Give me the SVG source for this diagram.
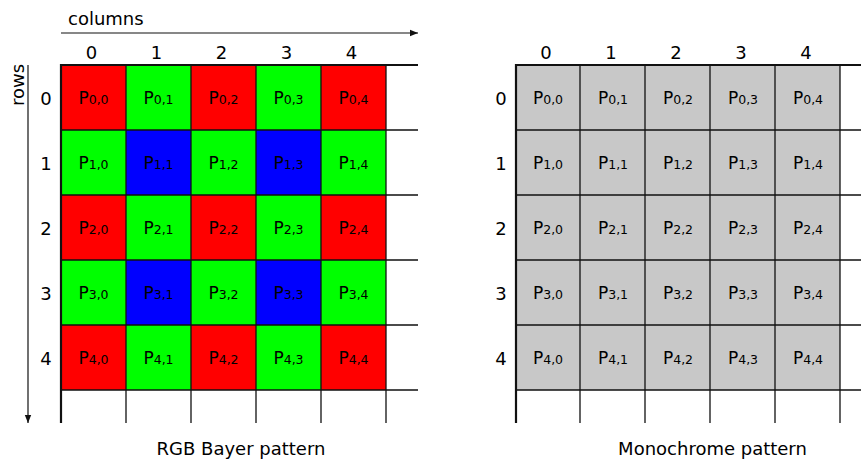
<svg xmlns="http://www.w3.org/2000/svg" width="861" height="459" viewBox="0 0 861 459">
<style>
text{font-family:"DejaVu Sans","Liberation Sans",sans-serif;fill:#000;font-weight:normal}
.lbl{font-size:18px;text-anchor:middle}
.cap{font-size:18px;text-anchor:middle}
.p{font-size:17px;text-anchor:middle}
.s{font-size:12.5px}
.r{fill:#ff0000}.g{fill:#00ff00}.b{fill:#0000ff}.m{fill:#c8c8c8}
.grid{stroke:#111;stroke-width:1.3;fill:none}
.edge{stroke:#111;stroke-width:2.2;fill:none}
.conn{stroke:#111;stroke-width:1.2;fill:none;marker-end:url(#ah)}
</style>
<defs>
<marker id="ah" viewBox="0 0 10 10" refX="10" refY="5" markerWidth="8" markerHeight="8" markerUnits="userSpaceOnUse" orient="auto"><path d="M0,1 L10,5 L0,9 z" fill="#111"/></marker>
</defs>
<rect width="861" height="459" fill="#fff"/>

<g id="connectors">
<line class="conn" x1="61" y1="33" x2="418" y2="33"/>
<line class="conn" x1="28" y1="65" x2="28" y2="423"/>
</g>
<text x="68" y="25" style="font-size:18px">columns</text>
<text transform="translate(24,85) rotate(-90)" class="lbl">rows</text>

<!-- Bayer grid cells -->
<g id="bayer">
<g id="b00"><rect class="r" x="61" y="65" width="65" height="65"/><text class="p" x="93.5" y="104">P<tspan class="s">0,0</tspan></text></g>
<g id="b01"><rect class="g" x="126" y="65" width="65" height="65"/><text class="p" x="158.5" y="104">P<tspan class="s">0,1</tspan></text></g>
<g id="b02"><rect class="r" x="191" y="65" width="65" height="65"/><text class="p" x="223.5" y="104">P<tspan class="s">0,2</tspan></text></g>
<g id="b03"><rect class="g" x="256" y="65" width="65" height="65"/><text class="p" x="288.5" y="104">P<tspan class="s">0,3</tspan></text></g>
<g id="b04"><rect class="r" x="321" y="65" width="65" height="65"/><text class="p" x="353.5" y="104">P<tspan class="s">0,4</tspan></text></g>

<g id="b10"><rect class="g" x="61" y="130" width="65" height="65"/><text class="p" x="93.5" y="169">P<tspan class="s">1,0</tspan></text></g>
<g id="b11"><rect class="b" x="126" y="130" width="65" height="65"/><text class="p" x="158.5" y="169">P<tspan class="s">1,1</tspan></text></g>
<g id="b12"><rect class="g" x="191" y="130" width="65" height="65"/><text class="p" x="223.5" y="169">P<tspan class="s">1,2</tspan></text></g>
<g id="b13"><rect class="b" x="256" y="130" width="65" height="65"/><text class="p" x="288.5" y="169">P<tspan class="s">1,3</tspan></text></g>
<g id="b14"><rect class="g" x="321" y="130" width="65" height="65"/><text class="p" x="353.5" y="169">P<tspan class="s">1,4</tspan></text></g>

<g id="b20"><rect class="r" x="61" y="195" width="65" height="65"/><text class="p" x="93.5" y="234">P<tspan class="s">2,0</tspan></text></g>
<g id="b21"><rect class="g" x="126" y="195" width="65" height="65"/><text class="p" x="158.5" y="234">P<tspan class="s">2,1</tspan></text></g>
<g id="b22"><rect class="r" x="191" y="195" width="65" height="65"/><text class="p" x="223.5" y="234">P<tspan class="s">2,2</tspan></text></g>
<g id="b23"><rect class="g" x="256" y="195" width="65" height="65"/><text class="p" x="288.5" y="234">P<tspan class="s">2,3</tspan></text></g>
<g id="b24"><rect class="r" x="321" y="195" width="65" height="65"/><text class="p" x="353.5" y="234">P<tspan class="s">2,4</tspan></text></g>

<g id="b30"><rect class="g" x="61" y="260" width="65" height="65"/><text class="p" x="93.5" y="299">P<tspan class="s">3,0</tspan></text></g>
<g id="b31"><rect class="b" x="126" y="260" width="65" height="65"/><text class="p" x="158.5" y="299">P<tspan class="s">3,1</tspan></text></g>
<g id="b32"><rect class="g" x="191" y="260" width="65" height="65"/><text class="p" x="223.5" y="299">P<tspan class="s">3,2</tspan></text></g>
<g id="b33"><rect class="b" x="256" y="260" width="65" height="65"/><text class="p" x="288.5" y="299">P<tspan class="s">3,3</tspan></text></g>
<g id="b34"><rect class="g" x="321" y="260" width="65" height="65"/><text class="p" x="353.5" y="299">P<tspan class="s">3,4</tspan></text></g>

<g id="b40"><rect class="r" x="61" y="325" width="65" height="65"/><text class="p" x="93.5" y="364">P<tspan class="s">4,0</tspan></text></g>
<g id="b41"><rect class="g" x="126" y="325" width="65" height="65"/><text class="p" x="158.5" y="364">P<tspan class="s">4,1</tspan></text></g>
<g id="b42"><rect class="r" x="191" y="325" width="65" height="65"/><text class="p" x="223.5" y="364">P<tspan class="s">4,2</tspan></text></g>
<g id="b43"><rect class="g" x="256" y="325" width="65" height="65"/><text class="p" x="288.5" y="364">P<tspan class="s">4,3</tspan></text></g>
<g id="b44"><rect class="r" x="321" y="325" width="65" height="65"/><text class="p" x="353.5" y="364">P<tspan class="s">4,4</tspan></text></g>

<path class="grid" d="M61,130H418M61,195H418M61,260H418M61,325H418M61,390H418M126,65V423M191,65V423M256,65V423M321,65V423M386,65V423"/>
<path class="edge" d="M61,423V65H418"/>
</g>

<g id="bayer-labels">
<text class="lbl" x="91.5" y="59">0</text><text class="lbl" x="156.5" y="59">1</text><text class="lbl" x="221.5" y="59">2</text><text class="lbl" x="286.5" y="59">3</text><text class="lbl" x="351.5" y="59">4</text>
<text class="lbl" x="46" y="105">0</text><text class="lbl" x="46" y="170">1</text><text class="lbl" x="46" y="235">2</text><text class="lbl" x="46" y="300">3</text><text class="lbl" x="46" y="365">4</text>
</g>
<text class="cap" x="241" y="455">RGB Bayer pattern</text>

<!-- Monochrome grid -->
<g id="mono">
<rect class="m" x="516" y="65" width="324" height="325"/>
<g id="m00"><text class="p" x="548" y="104">P<tspan class="s">0,0</tspan></text></g>
<g id="m01"><text class="p" x="613" y="104">P<tspan class="s">0,1</tspan></text></g>
<g id="m02"><text class="p" x="678" y="104">P<tspan class="s">0,2</tspan></text></g>
<g id="m03"><text class="p" x="743" y="104">P<tspan class="s">0,3</tspan></text></g>
<g id="m04"><text class="p" x="808" y="104">P<tspan class="s">0,4</tspan></text></g>
<g id="m10"><text class="p" x="548" y="169">P<tspan class="s">1,0</tspan></text></g>
<g id="m11"><text class="p" x="613" y="169">P<tspan class="s">1,1</tspan></text></g>
<g id="m12"><text class="p" x="678" y="169">P<tspan class="s">1,2</tspan></text></g>
<g id="m13"><text class="p" x="743" y="169">P<tspan class="s">1,3</tspan></text></g>
<g id="m14"><text class="p" x="808" y="169">P<tspan class="s">1,4</tspan></text></g>
<g id="m20"><text class="p" x="548" y="234">P<tspan class="s">2,0</tspan></text></g>
<g id="m21"><text class="p" x="613" y="234">P<tspan class="s">2,1</tspan></text></g>
<g id="m22"><text class="p" x="678" y="234">P<tspan class="s">2,2</tspan></text></g>
<g id="m23"><text class="p" x="743" y="234">P<tspan class="s">2,3</tspan></text></g>
<g id="m24"><text class="p" x="808" y="234">P<tspan class="s">2,4</tspan></text></g>
<g id="m30"><text class="p" x="548" y="299">P<tspan class="s">3,0</tspan></text></g>
<g id="m31"><text class="p" x="613" y="299">P<tspan class="s">3,1</tspan></text></g>
<g id="m32"><text class="p" x="678" y="299">P<tspan class="s">3,2</tspan></text></g>
<g id="m33"><text class="p" x="743" y="299">P<tspan class="s">3,3</tspan></text></g>
<g id="m34"><text class="p" x="808" y="299">P<tspan class="s">3,4</tspan></text></g>
<g id="m40"><text class="p" x="548" y="364">P<tspan class="s">4,0</tspan></text></g>
<g id="m41"><text class="p" x="613" y="364">P<tspan class="s">4,1</tspan></text></g>
<g id="m42"><text class="p" x="678" y="364">P<tspan class="s">4,2</tspan></text></g>
<g id="m43"><text class="p" x="743" y="364">P<tspan class="s">4,3</tspan></text></g>
<g id="m44"><text class="p" x="808" y="364">P<tspan class="s">4,4</tspan></text></g>
<path class="grid" d="M516,130H861M516,195H861M516,260H861M516,325H861M516,390H861M580,65V423M645,65V423M710,65V423M775,65V423M840,65V423"/>
<path class="edge" d="M516,423V65H861"/>
</g>

<g id="mono-labels">
<text class="lbl" x="546" y="59">0</text><text class="lbl" x="611" y="59">1</text><text class="lbl" x="676" y="59">2</text><text class="lbl" x="741" y="59">3</text><text class="lbl" x="806" y="59">4</text>
<text class="lbl" x="501" y="105">0</text><text class="lbl" x="501" y="170">1</text><text class="lbl" x="501" y="235">2</text><text class="lbl" x="501" y="300">3</text><text class="lbl" x="501" y="365">4</text>
</g>
<text class="cap" x="712.5" y="455">Monochrome pattern</text>
</svg>
